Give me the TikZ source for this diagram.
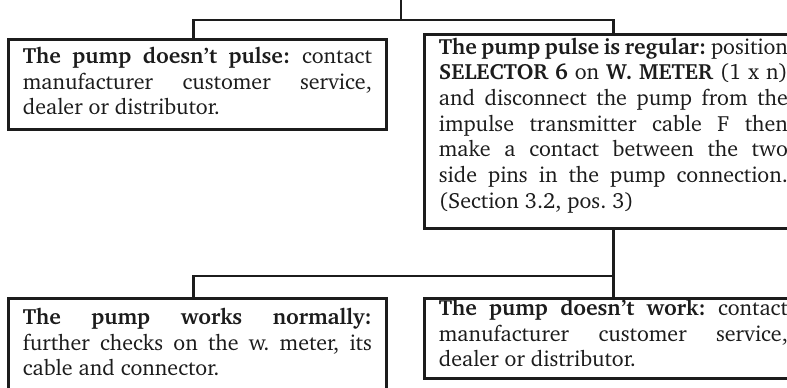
\documentclass[tikz,border=0pt]{standalone}
\usepackage[T1]{fontenc}
\usepackage{charter}
\definecolor{ink}{HTML}{1C1C1C}
\newcommand{\boxfont}{\fontsize{22}{25.6}\selectfont\frenchspacing
  \spaceskip=6pt plus 10pt minus 3pt\hyphenpenalty=10000\relax}
\tikzset{
  box/.style={draw=ink, text=ink, line width=2.8pt, anchor=north west,
    inner xsep=14.5pt, inner ysep=0pt, text width=349pt, align=justify,
    font=\boxfont},
  wire/.style={draw=ink, line width=2.4pt}
}
\begin{document}
\begin{tikzpicture}[x=1pt,y=-1pt]
  \useasboundingbox[fill=white] (0,0) rectangle (787,388);

  % decision boxes
  \node[box, text height=24pt, text depth=66pt] (b1) at (7,38)
    {\textbf{The pump doesn't pulse:} contact\linebreak
     manufacturer customer service,\linebreak
     dealer or distributor.};
  \node[box, text height=20pt, text depth=174pt] (b2) at (423,33)
    {\textbf{The pump pulse is regular:} position\linebreak
     \textbf{SELECTOR 6} on \textbf{W. METER} (1 x n)\linebreak
     and disconnect the pump from the\linebreak
     impulse transmitter cable F then\linebreak
     make a contact between the two\linebreak
     side pins in the pump connection.\linebreak
     (Section 3.2, pos. 3)};
  \node[box, text height=26pt, text depth=120pt] (b3) at (7,297)
    {\textbf{The pump works normally:}\linebreak
     further checks on the w. meter, its\linebreak
     cable and connector.};
  \node[box, text height=17pt, text depth=63pt] (b4) at (423,297)
    {\textbf{The pump doesn't work:} contact\linebreak
     manufacturer customer service,\linebreak
     dealer or distributor.};

  % connectors
  \coordinate (top) at (401,0);
  \coordinate (busA) at (401,20);
  \coordinate (busB) at (b2.south |- 0,276);
  \draw[wire] (top) -- (busA);
  \draw[wire] ([xshift=-4pt]b1.north) |- (busA) -| (b2.north);
  \draw[wire] (b2.south) -- (busB);
  \draw[wire] ([xshift=-4pt]b3.north) |- (busB) -| (b4.north);
\end{tikzpicture}
\end{document}
